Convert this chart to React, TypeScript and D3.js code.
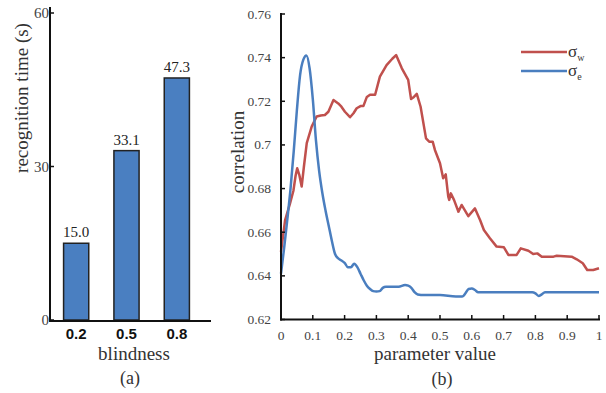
import { useEffect, useRef } from "react";
import * as d3 from "d3";

const W = 606;
const H = 393;

// (a) bar chart
const blindness = ["0.2", "0.5", "0.8"];
const recogTime = [15.0, 33.1, 47.3];
const barTicks = [0, 30, 60];

// (b) line chart
const paramTicks = [0, 0.1, 0.2, 0.3, 0.4, 0.5, 0.6, 0.7, 0.8, 0.9, 1];
const corrTicks = [0.62, 0.64, 0.66, 0.68, 0.7, 0.72, 0.74, 0.76];

const sigmaW: [number, number][] = [
    [0, 0.651], [0.013, 0.6656], [0.028, 0.673], [0.039, 0.679], [0.046, 0.686],
    [0.051, 0.6893], [0.058, 0.686], [0.065, 0.6809], [0.072, 0.69], [0.081, 0.7008],
    [0.0965, 0.7084], [0.112, 0.713], [0.125, 0.7135], [0.138, 0.7137], [0.149, 0.7152],
    [0.165, 0.7206], [0.18, 0.719], [0.19, 0.7175], [0.201, 0.7152], [0.217, 0.7127],
    [0.228, 0.7145], [0.238, 0.7168], [0.25, 0.7178], [0.259, 0.7178], [0.27, 0.722],
    [0.28, 0.723], [0.296, 0.723], [0.311, 0.7313], [0.332, 0.7366], [0.35, 0.7395],
    [0.362, 0.7412], [0.38, 0.7351], [0.4, 0.7298], [0.409, 0.721], [0.418, 0.722],
    [0.427, 0.7234], [0.439, 0.7175], [0.456, 0.703], [0.466, 0.7015], [0.477, 0.7015],
    [0.484, 0.6977], [0.5, 0.6916], [0.51, 0.6847], [0.518, 0.6865], [0.526, 0.6763],
    [0.529, 0.6748], [0.534, 0.6778], [0.544, 0.6748], [0.558, 0.6694], [0.568, 0.6725],
    [0.589, 0.6674], [0.61, 0.6709], [0.626, 0.6656], [0.638, 0.661], [0.657, 0.6572],
    [0.678, 0.6534], [0.701, 0.6531], [0.715, 0.6496], [0.741, 0.6496], [0.754, 0.6526],
    [0.778, 0.6515], [0.793, 0.65], [0.806, 0.6503], [0.82, 0.6488], [0.857, 0.6488],
    [0.867, 0.6492], [0.914, 0.6488], [0.93, 0.6476], [0.949, 0.6458], [0.963, 0.6427],
    [0.982, 0.6427], [1, 0.6435],
];

const sigmaE: [number, number][] = [
    [0, 0.641], [0.01, 0.653], [0.02, 0.666], [0.03, 0.68], [0.04, 0.697],
    [0.05, 0.716], [0.06, 0.732], [0.07, 0.739], [0.08, 0.741], [0.09, 0.735],
    [0.1, 0.721], [0.11, 0.702], [0.12, 0.688], [0.13, 0.678], [0.14, 0.67],
    [0.15, 0.663], [0.16, 0.656], [0.17, 0.65], [0.18, 0.648], [0.19, 0.647],
    [0.2, 0.646], [0.21, 0.644], [0.22, 0.644], [0.23, 0.6455], [0.24, 0.644],
    [0.25, 0.641], [0.26, 0.638], [0.27, 0.6355], [0.28, 0.634], [0.29, 0.633],
    [0.3, 0.6328], [0.31, 0.633], [0.32, 0.6345], [0.33, 0.635], [0.35, 0.635],
    [0.37, 0.635], [0.39, 0.6358], [0.4, 0.6355], [0.41, 0.6345], [0.42, 0.6325],
    [0.43, 0.6315], [0.45, 0.6312], [0.5, 0.6312], [0.55, 0.6305], [0.57, 0.6305],
    [0.58, 0.632], [0.59, 0.634], [0.6, 0.6342], [0.61, 0.6335], [0.62, 0.6325],
    [0.7, 0.6325], [0.79, 0.6325], [0.8, 0.632], [0.81, 0.6308], [0.82, 0.6315],
    [0.83, 0.6325], [0.9, 0.6325], [1, 0.6325],
];

const RED = "#c0504d";
const BLUE = "#4a7ebf";
const SERIF = "'Liberation Serif', 'Times New Roman', serif";
const SANS = "'Liberation Sans', Arial, sans-serif";

export default function App() {
    const ref = useRef<SVGSVGElement>(null);

    useEffect(() => {
        const svg = d3.select(ref.current);
        svg.selectAll("*").remove();

        // ---------- (a) ----------
        const a = svg.append("g");
        const ax = d3.scaleBand().domain(blindness).range([51, 202]).paddingInner(0.5).paddingOuter(0.25);
        const ay = d3.scaleLinear().domain([0, 60]).range([320, 13]);

        a.selectAll("rect")
            .data(recogTime)
            .enter()
            .append("rect")
                .attr("x", (_d, i) => ax(blindness[i])!)
                .attr("y", (d) => ay(d))
                .attr("width", ax.bandwidth())
                .attr("height", (d) => ay(0) - ay(d))
                .attr("fill", "#4a7fc1")
                .attr("stroke", "#222")
                .attr("stroke-width", 1.5);

        a.selectAll("text.val")
            .data(recogTime)
            .enter()
            .append("text")
                .attr("x", (_d, i) => ax(blindness[i])! + ax.bandwidth() / 2)
                .attr("y", (d) => ay(d) - 6)
                .attr("text-anchor", "middle")
                .style("font-family", SERIF)
                .style("font-size", "15px")
                .style("fill", "#222")
                .text((d) => d.toFixed(1));

        // axes
        a.append("line").attr("x1", 50).attr("x2", 50).attr("y1", 7).attr("y2", 321)
            .attr("stroke", "#111").attr("stroke-width", 2);
        a.append("line").attr("x1", 49).attr("x2", 211).attr("y1", 321).attr("y2", 321)
            .attr("stroke", "#111").attr("stroke-width", 2);

        barTicks.forEach((t) => {
            a.append("line").attr("x1", 50).attr("x2", 54).attr("y1", ay(t)).attr("y2", ay(t))
                .attr("stroke", "#111").attr("stroke-width", 1.5);
            a.append("text")
                .attr("x", 49)
                .attr("y", ay(t) + 5)
                .attr("text-anchor", "end")
                .style("font-family", SERIF)
                .style("font-size", "15px")
                .style("fill", "#444")
                .text(t);
        });

        blindness.forEach((b) => {
            a.append("text")
                .attr("x", ax(b)! + ax.bandwidth() / 2)
                .attr("y", 339)
                .attr("text-anchor", "middle")
                .style("font-family", SANS)
                .style("font-weight", "bold")
                .style("font-size", "15px")
                .style("fill", "#111")
                .text(b);
        });

        a.append("text")
            .attr("x", 134).attr("y", 360)
            .attr("text-anchor", "middle")
            .style("font-family", SERIF).style("font-size", "19px").style("fill", "#333")
            .text("blindness");
        a.append("text")
            .attr("x", 130).attr("y", 384)
            .attr("text-anchor", "middle")
            .style("font-family", SERIF).style("font-size", "18px").style("fill", "#333")
            .text("(a)");
        a.append("text")
            .attr("transform", "translate(28, 98) rotate(-90)")
            .attr("text-anchor", "middle")
            .style("font-family", SERIF).style("font-size", "19px").style("fill", "#333")
            .text("recognition time (s)");

        // ---------- (b) ----------
        const b = svg.append("g");
        const bx = d3.scaleLinear().domain([0, 1]).range([281, 599]);
        const by = d3.scaleLinear().domain([0.62, 0.76]).range([319.5, 14]);

        const lineW = d3.line<[number, number]>()
            .x((d) => bx(d[0]))
            .y((d) => by(d[1]));
        const lineE = d3.line<[number, number]>()
            .x((d) => bx(d[0]))
            .y((d) => by(d[1]))
            .curve(d3.curveMonotoneX);

        b.append("path").attr("d", lineW(sigmaW)!)
            .attr("fill", "none").attr("stroke", RED).attr("stroke-width", 2.5)
            .attr("stroke-linejoin", "round");
        b.append("path").attr("d", lineE(sigmaE)!)
            .attr("fill", "none").attr("stroke", BLUE).attr("stroke-width", 2.5)
            .attr("stroke-linejoin", "round");

        b.append("line").attr("x1", 281).attr("x2", 281).attr("y1", 13).attr("y2", 320.5)
            .attr("stroke", "#111").attr("stroke-width", 2);
        b.append("line").attr("x1", 280).attr("x2", 600).attr("y1", 319.5).attr("y2", 319.5)
            .attr("stroke", "#111").attr("stroke-width", 2);

        corrTicks.forEach((t) => {
            b.append("line").attr("x1", 281).attr("x2", 285).attr("y1", by(t)).attr("y2", by(t))
                .attr("stroke", "#111").attr("stroke-width", 1.5);
            b.append("text")
                .attr("x", 271)
                .attr("y", by(t) + 4.5)
                .attr("text-anchor", "end")
                .style("font-family", SERIF)
                .style("font-size", "13.5px")
                .style("fill", "#444")
                .text(d3.format("~g")(t));
        });

        paramTicks.forEach((t) => {
            b.append("line").attr("x1", bx(t)).attr("x2", bx(t)).attr("y1", 319.5).attr("y2", 315)
                .attr("stroke", "#111").attr("stroke-width", 1.5);
            b.append("text")
                .attr("x", bx(t))
                .attr("y", 340)
                .attr("text-anchor", "middle")
                .style("font-family", SERIF)
                .style("font-size", "13.5px")
                .style("fill", "#444")
                .text(d3.format("~g")(t));
        });

        b.append("text")
            .attr("x", 435).attr("y", 360)
            .attr("text-anchor", "middle")
            .style("font-family", SERIF).style("font-size", "19px").style("fill", "#333")
            .text("parameter value");
        b.append("text")
            .attr("x", 442).attr("y", 385)
            .attr("text-anchor", "middle")
            .style("font-family", SERIF).style("font-size", "18px").style("fill", "#333")
            .text("(b)");
        b.append("text")
            .attr("transform", "translate(244, 152) rotate(-90)")
            .attr("text-anchor", "middle")
            .style("font-family", SERIF).style("font-size", "19px").style("fill", "#333")
            .text("correlation");

        // legend
        const legend = [
            { sub: "w", color: RED, y: 52 },
            { sub: "e", color: BLUE, y: 71 },
        ];
        legend.forEach((l) => {
            b.append("line").attr("x1", 521).attr("x2", 567).attr("y1", l.y).attr("y2", l.y)
                .attr("stroke", l.color).attr("stroke-width", 2.5);
            const t = b.append("text")
                .attr("x", 568).attr("y", l.y + 5)
                .style("font-family", SERIF).style("font-size", "17px").style("fill", "#333");
            t.append("tspan").text("σ");
            t.append("tspan").attr("dy", 4).style("font-size", "10px").text(l.sub);
        });

        return () => {
            d3.select(ref.current).selectAll("*").remove();
        };
    }, [ref]);

    return (
        <svg
            ref={ref}
            width={W}
            height={H}
            style={{ position: "absolute", left: 0, top: 0, background: "white" }}
        />
    );
}
